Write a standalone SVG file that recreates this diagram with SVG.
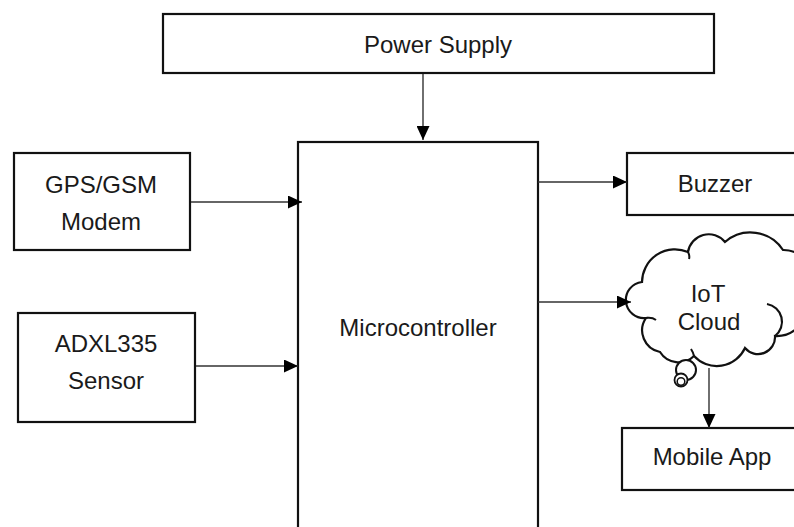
<svg xmlns="http://www.w3.org/2000/svg" width="794" height="527" viewBox="0 0 794 527">
<style>
.box{fill:#ffffff;stroke:#111111;stroke-width:2.2}
.lbl{font-family:"Liberation Sans",Arial,sans-serif;font-size:24px;fill:#1a1a1a;text-anchor:middle}
.con{stroke:#333333;stroke-width:1.4;fill:none}
.cloud{fill:#ffffff;stroke:#111111;stroke-width:2.2}
</style>
<defs>
<marker id="arr" markerUnits="userSpaceOnUse" markerWidth="14" markerHeight="13" refX="14" refY="6.5" orient="auto">
<path d="M0,0 L14,6.5 L0,13 Z" fill="#000000"/>
</marker>
</defs>
<rect width="794" height="527" fill="#ffffff"/>
<g id="power-supply">
<rect class="box" x="163" y="14" width="551" height="59"/>
<text class="lbl" x="438" y="53">Power Supply</text>
</g>
<g id="microcontroller">
<rect class="box" x="298" y="142" width="240" height="400"/>
<text class="lbl" x="418" y="336">Microcontroller</text>
</g>
<g id="gps-gsm-modem">
<rect class="box" x="14" y="153" width="176" height="97"/>
<text class="lbl" x="101" y="193">GPS/GSM</text>
<text class="lbl" x="101" y="230">Modem</text>
</g>
<g id="adxl335-sensor">
<rect class="box" x="18" y="313" width="177" height="109"/>
<text class="lbl" x="106" y="352">ADXL335</text>
<text class="lbl" x="106" y="389">Sensor</text>
</g>
<g id="buzzer">
<rect class="box" x="627" y="153" width="200" height="62"/>
<text class="lbl" x="715" y="192">Buzzer</text>
</g>
<g id="iot-cloud">
<path class="cloud" d="M646,318 A18,18 0 0 1 642,282 A33,33 0 0 1 688,252 A21,21 0 0 1 725,242 A39,39 0 0 1 783,250 A30,30 0 0 1 806,300 A30,30 0 0 1 775,336 A17,17 0 0 1 745,348 A31,31 0 0 1 694,356 A22,22 0 0 1 660,352 A22,22 0 0 1 646,318 Z"/>
<path d="M767,304 A18,18 0 0 1 775,336" fill="none" stroke="#111111" stroke-width="2.2"/>
<path d="M646,318 Q652,317 656,320" fill="none" stroke="#111111" stroke-width="2"/>
<path d="M688,252 Q690,256 689,259" fill="none" stroke="#111111" stroke-width="2"/>
<path d="M694,356 Q693,352 691,349" fill="none" stroke="#111111" stroke-width="2"/>
<circle cx="686" cy="370" r="10" fill="#ffffff" stroke="#111111" stroke-width="2"/>
<circle cx="681" cy="380" r="6.5" fill="#ffffff" stroke="#111111" stroke-width="1.8"/>
<circle cx="681" cy="381.5" r="3.8" fill="none" stroke="#111111" stroke-width="1.5"/>
<text class="lbl" x="708" y="302">IoT</text>
<text class="lbl" x="709" y="330">Cloud</text>
</g>
<g id="mobile-app">
<rect class="box" x="622" y="428" width="200" height="62"/>
<text class="lbl" x="712" y="465">Mobile App</text>
</g>
<g id="connectors">
<line class="con" x1="423" y1="74" x2="423" y2="140" marker-end="url(#arr)"/>
<line class="con" x1="191" y1="202" x2="302" y2="202" marker-end="url(#arr)"/>
<line class="con" x1="196" y1="366" x2="298" y2="366" marker-end="url(#arr)"/>
<line class="con" x1="538" y1="182" x2="627" y2="182" marker-end="url(#arr)"/>
<line class="con" x1="538" y1="302" x2="631" y2="302" marker-end="url(#arr)"/>
<line class="con" x1="709" y1="368" x2="709" y2="428" stroke="#666666" marker-end="url(#arr)"/>
</g>
</svg>
